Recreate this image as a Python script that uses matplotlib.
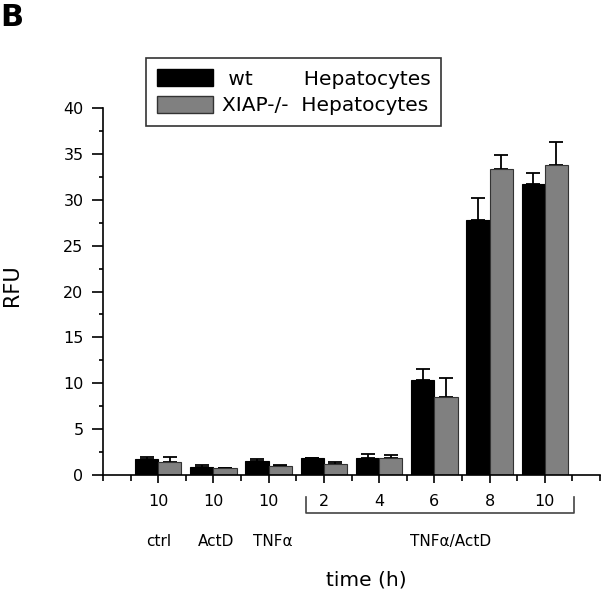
import matplotlib
matplotlib.use("Agg")
import matplotlib.pyplot as plt
from matplotlib.patches import Patch
from matplotlib.ticker import MultipleLocator
import numpy as np

# values (RFU)
tick_labels = ["10", "10", "10", "2", "4", "6", "8", "10"]
group_labels = ["ctrl", "ActD", "TNF\u03b1", "TNF\u03b1/ActD"]
wt = [1.75, 0.85, 1.5, 1.85, 1.9, 10.4, 27.8, 31.7]
wt_err = [0.25, 0.2, 0.2, 0.0, 0.35, 1.1, 2.4, 1.2]
xiap = [1.4, 0.75, 1.0, 1.25, 1.9, 8.5, 33.4, 33.8]
xiap_err = [0.6, 0.03, 0.12, 0.15, 0.3, 2.1, 1.5, 2.5]

W, H = 601, 595
fig = plt.figure(figsize=(W / 100, H / 100), dpi=100)
ax = fig.add_axes([103 / W, 1 - 475 / H, 497 / W, 367 / H])

x = np.arange(len(wt))
bw = 0.42
ax.bar(x - bw / 2, wt, bw, color="black", edgecolor="black", lw=0.8, zorder=3)
ax.bar(x + bw / 2, xiap, bw, color="#808080", edgecolor="#333333", lw=0.8, zorder=3)
# upper error bars only, drawn behind the bars
ax.errorbar(x - bw / 2, wt, yerr=[np.zeros(len(wt)), wt_err], fmt="none",
            ecolor="black", elinewidth=1.3, capthick=1.3, capsize=5, zorder=2)
ax.errorbar(x + bw / 2, xiap, yerr=[np.zeros(len(xiap)), xiap_err], fmt="none",
            ecolor="black", elinewidth=1.3, capthick=1.3, capsize=5, zorder=2)

ax.set_xlim(-1, 8)
ax.set_ylim(0, 40)
ax.spines["top"].set_visible(False)
ax.spines["right"].set_visible(False)
for s in ("left", "bottom"):
    ax.spines[s].set_linewidth(1.2)
    ax.spines[s].set_zorder(4)

ax.set_xticks(x)
ax.set_xticklabels(tick_labels, fontsize=11.5)
ax.xaxis.set_minor_locator(MultipleLocator(0.5))
ax.tick_params(axis="x", which="major", direction="out", length=6, width=1.2, pad=8)
ax.tick_params(axis="x", which="minor", direction="out", length=4, width=1.2)

ax.yaxis.set_major_locator(MultipleLocator(5))
ax.yaxis.set_minor_locator(MultipleLocator(2.5))
ax.tick_params(axis="y", which="major", direction="out", length=8, width=1.2,
               labelsize=11.5, pad=6)
ax.tick_params(axis="y", which="minor", direction="out", length=3, width=1.2)

# bracket under the TNFa/ActD time course
tr = ax.get_xaxis_transform()
bx0, bx1 = 2.67, 7.53
ax.plot([bx0, bx0, bx1, bx1], [-0.06, -0.104, -0.104, -0.06], transform=tr,
        color="#444444", lw=1.2, clip_on=False)

group_pos = [0, 1.05, 2.08, 5.3]
for gx, gl in zip(group_pos, group_labels):
    ax.text(gx, -0.182, gl, transform=tr, ha="center", va="center", fontsize=11)

fig.text(366 / W, 1 - 580 / H, "time (h)", ha="center", va="center", fontsize=14.5)
fig.text(12 / W, 1 - 285 / H, "RFU", ha="center", va="center", rotation=90,
         fontsize=15)
fig.text(0.0, 1 - 3 / H, "B", ha="left", va="top", fontsize=22, fontweight="bold")

handles = [Patch(facecolor="black", edgecolor="black"),
           Patch(facecolor="#808080", edgecolor="#333333")]
labels = [" wt        Hepatocytes", "XIAP-/-  Hepatocytes"]
leg = fig.legend(handles, labels, loc="upper left",
                 bbox_to_anchor=(146 / W, 1 - 58 / H), bbox_transform=fig.transFigure,
                 borderaxespad=0, fontsize=14.5, handlelength=2.8, handleheight=0.95,
                 handletextpad=0.4, labelspacing=0.35, borderpad=0.55,
                 fancybox=False, framealpha=1)
leg.get_frame().set_edgecolor("#333333")
leg.get_frame().set_linewidth(1.2)

fig.savefig("out.png", dpi=100)
